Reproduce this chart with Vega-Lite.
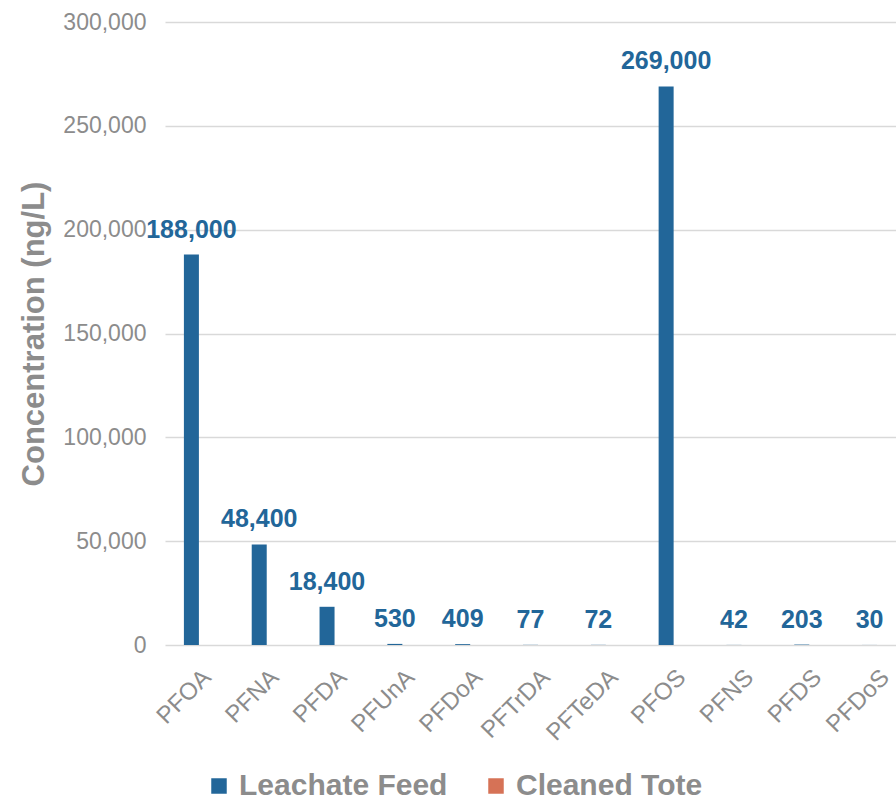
{
  "$schema": "https://vega.github.io/schema/vega-lite/v6.json",
  "width": 728,
  "height": 623,
  "autosize": {"type": "none"},
  "padding": {"left": 168, "top": 22, "right": 0, "bottom": 156},
  "background": "white",
  "config": {
    "font": "Liberation Sans",
    "view": {"stroke": null}
  },
  "data": {
    "values": [
      {"compound": "PFOA", "series": "Leachate Feed", "value": 188000},
      {"compound": "PFNA", "series": "Leachate Feed", "value": 48400},
      {"compound": "PFDA", "series": "Leachate Feed", "value": 18400},
      {"compound": "PFUnA", "series": "Leachate Feed", "value": 530},
      {"compound": "PFDoA", "series": "Leachate Feed", "value": 409},
      {"compound": "PFTrDA", "series": "Leachate Feed", "value": 77},
      {"compound": "PFTeDA", "series": "Leachate Feed", "value": 72},
      {"compound": "PFOS", "series": "Leachate Feed", "value": 269000},
      {"compound": "PFNS", "series": "Leachate Feed", "value": 42},
      {"compound": "PFDS", "series": "Leachate Feed", "value": 203},
      {"compound": "PFDoS", "series": "Leachate Feed", "value": 30},
      {"compound": "PFOA", "series": "Cleaned Tote", "value": 0},
      {"compound": "PFNA", "series": "Cleaned Tote", "value": 0},
      {"compound": "PFDA", "series": "Cleaned Tote", "value": 0},
      {"compound": "PFUnA", "series": "Cleaned Tote", "value": 0},
      {"compound": "PFDoA", "series": "Cleaned Tote", "value": 0},
      {"compound": "PFTrDA", "series": "Cleaned Tote", "value": 0},
      {"compound": "PFTeDA", "series": "Cleaned Tote", "value": 0},
      {"compound": "PFOS", "series": "Cleaned Tote", "value": 0},
      {"compound": "PFNS", "series": "Cleaned Tote", "value": 0},
      {"compound": "PFDS", "series": "Cleaned Tote", "value": 0},
      {"compound": "PFDoS", "series": "Cleaned Tote", "value": 0}
    ]
  },
  "encoding": {
    "x": {
      "field": "compound",
      "type": "nominal",
      "sort": null,
      "scale": {"range": [-3, 743], "paddingInner": 0.5575, "paddingOuter": 0.27875},
      "axis": {
        "title": null,
        "labelAngle": -45,
        "labelFontSize": 24,
        "labelColor": "#8c8c8c",
        "labelPadding": 20,
        "ticks": false,
        "domain": false,
        "grid": false
      }
    },
    "xOffset": {
      "field": "series",
      "type": "nominal",
      "scale": {"domain": ["Leachate Feed", "Cleaned Tote"], "paddingInner": 0, "paddingOuter": 0}
    },
    "y": {
      "field": "value",
      "type": "quantitative",
      "scale": {"domain": [0, 300000], "nice": false},
      "axis": {
        "title": "Concentration (ng/L)",
        "titleFontSize": 31,
        "titleFontWeight": "bold",
        "titleColor": "#8c8c8c",
        "titlePadding": 12,
        "values": [0, 50000, 100000, 150000, 200000, 250000, 300000],
        "format": ",.0f",
        "labelFontSize": 23,
        "labelColor": "#8c8c8c",
        "labelPadding": 22,
        "ticks": false,
        "domain": false,
        "grid": true,
        "gridColor": "#d9d9d9",
        "gridWidth": 1.5
      }
    }
  },
  "layer": [
    {
      "mark": {"type": "bar"},
      "encoding": {
        "color": {
          "field": "series",
          "type": "nominal",
          "scale": {"domain": ["Leachate Feed", "Cleaned Tote"], "range": ["#226699", "#d67256"]},
          "legend": {
            "title": null,
            "orient": "none",
            "direction": "horizontal",
            "legendX": 36,
            "legendY": 749,
            "symbolType": "square",
            "symbolSize": 240,
            "symbolStrokeWidth": 0,
            "labelFontSize": 30,
            "labelFontWeight": "bold",
            "labelColor": "#8c8c8c",
            "labelOffset": 5,
            "columnPadding": 33,
            "labelLimit": 400
          }
        }
      }
    },
    {
      "transform": [{"filter": "datum.series == 'Leachate Feed'"}],
      "mark": {"type": "text", "fontSize": 25, "fontWeight": "bold", "color": "#226699", "baseline": "alphabetic", "dy": -17},
      "encoding": {
        "text": {"field": "value", "type": "quantitative", "format": ",.0f"}
      }
    }
  ]
}
